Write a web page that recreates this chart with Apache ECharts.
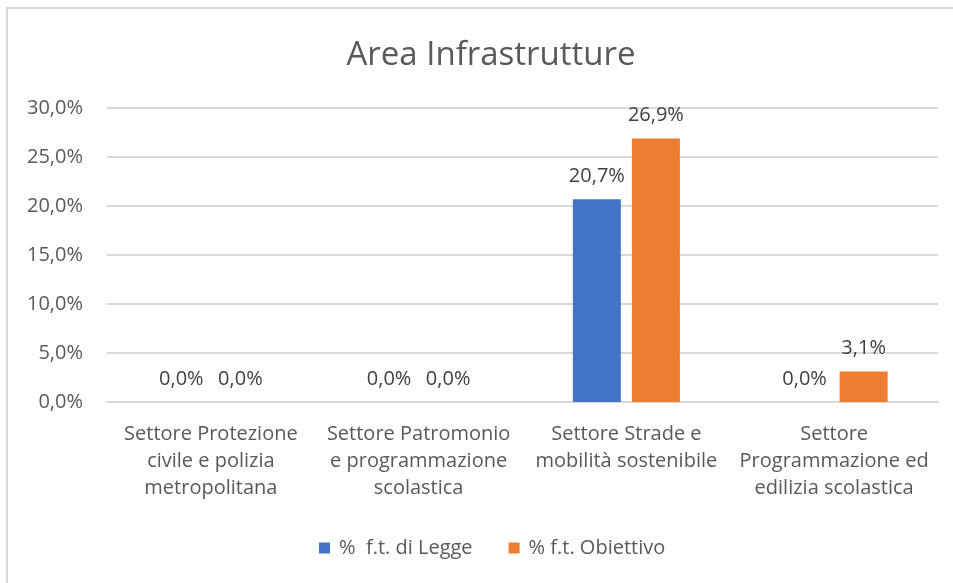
<!DOCTYPE html>
<html>
<head>
<meta charset="utf-8">
<script src="https://cdn.jsdelivr.net/npm/echarts@6/dist/echarts.min.js"></script>
<style>html,body{margin:0;padding:0;background:#fff}#c{width:953px;height:583px}</style>
</head>
<body>
<div id="c"></div>
<script>
var titleText = 'Area Infrastrutture';
var categories = [
  'Settore Protezione\ncivile e polizia\nmetropolitana',
  'Settore Patromonio\ne programmazione\nscolastica',
  'Settore Strade e\nmobilità sostenibile',
  'Settore\nProgrammazione ed\nedilizia scolastica'
];
var seriesNames = ['%  f.t. di Legge', '% f.t. Obiettivo'];
var legge = [0.0, 0.0, 20.7, 0.0];
var obiettivo = [0.0, 0.0, 26.9, 3.1];
var yMin = 0, yMax = 30, yStep = 5;

var FONT = '"Open Sans", "Noto Sans", sans-serif';
function pct(v){ return v.toFixed(1).replace('.', ',') + '%'; }

var chart = echarts.init(document.getElementById('c'), null, {renderer:'canvas'});
var labelCfg = {
  show: true, position: 'top', distance: 13,
  color: '#404040', fontSize: 20, fontFamily: FONT,
  formatter: function(p){ return pct(p.value); }
};
chart.setOption({
  backgroundColor: '#fff',
  animation: false,
  graphic: [{
    type: 'rect', shape: {x: 7, y: 8, width: 1000, height: 1000},
    style: {fill: 'none', stroke: '#D9D9D9', lineWidth: 2}, silent: true
  }],
  title: {
    text: titleText, left: 486, top: 34, textAlign: 'center',
    textStyle: {color: '#595959', fontSize: 33, fontWeight: 'normal', fontFamily: FONT}
  },
  legend: {
    data: seriesNames, left: 314, top: 533,
    itemWidth: 11, itemHeight: 11, itemGap: 36, icon: 'rect',
    textStyle: {color: '#595959', fontSize: 20, fontFamily: FONT, padding: [0, 0, 0, 4]}
  },
  grid: {left: 107, right: 15, top: 108, bottom: 181, containLabel: false},
  xAxis: {
    type: 'category', data: categories,
    axisLine: {show: true, lineStyle: {color: '#D9D9D9', width: 2}},
    axisTick: {show: false},
    axisLabel: {color: '#595959', fontSize: 20, fontFamily: FONT, lineHeight: 27, margin: 19, interval: 0}
  },
  yAxis: {
    type: 'value', min: yMin, max: yMax, interval: yStep,
    axisLine: {show: false}, axisTick: {show: false},
    splitLine: {lineStyle: {color: '#D9D9D9', width: 2}},
    axisLabel: {color: '#595959', fontSize: 20, fontFamily: FONT, margin: 24,
      formatter: function(v){ return pct(v); }}
  },
  series: [
    {name: seriesNames[0], type: 'bar', data: legge, barWidth: 48, barGap: '23%',
     itemStyle: {color: '#4472C4'}, label: labelCfg},
    {name: seriesNames[1], type: 'bar', data: obiettivo, barWidth: 48,
     itemStyle: {color: '#ED7D31'}, label: labelCfg}
  ]
});
</script>
</body>
</html>
